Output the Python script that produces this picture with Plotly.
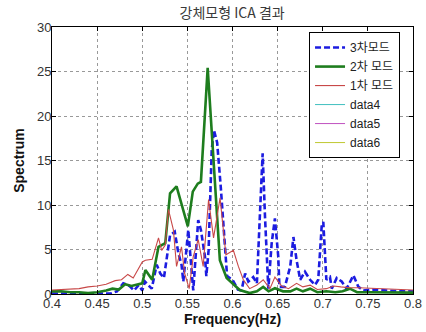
import plotly.graph_objects as go

# 3차모드 (blue dashed)
f3 = [0.40, 0.42, 0.44, 0.465, 0.472, 0.479, 0.486, 0.491, 0.496, 0.500, 0.503, 0.5105, 0.516,
      0.520, 0.524, 0.5308, 0.536, 0.540, 0.5435, 0.5455, 0.551, 0.5565, 0.562, 0.565, 0.5695,
      0.571, 0.5735, 0.577, 0.5795, 0.583, 0.587, 0.590, 0.5917, 0.594, 0.600, 0.606, 0.610,
      0.614, 0.6175, 0.623, 0.627, 0.631, 0.6334, 0.636, 0.6397, 0.6434, 0.647, 0.6507, 0.652,
      0.658, 0.664, 0.6675, 0.671, 0.675, 0.6803, 0.686, 0.6915, 0.695, 0.6988, 0.7006, 0.704,
      0.708, 0.710, 0.7155, 0.721, 0.7265, 0.734, 0.7395, 0.745, 0.756, 0.770, 0.785, 0.800]
s3 = [0.05, 0.05, 0.05, 0.05, 0.3, 1.2, 0.9, 0.4, 1.0, 0.4, 1.4, 0.6, 3.3,
      2.3, 1.8, 6.6, 7.0, 4.6, 3.3, 1.4, 7.2, 0.4, 8.3, 7.2, 4.2,
      2.0, 4.9, 16.2, 18.4, 17.0, 12.0, 8.0, 5.0, 2.0, 1.6, 0.5, 0.4,
      2.3, 1.4, 1.9, 1.2, 10.6, 15.8, 8.7, 0.6, 5.7, 8.5, 4.2, 0.8,
      0.8, 3.1, 6.4, 3.8, 1.6, 2.5, 1.6, 1.0, 1.6, 7.6, 8.1, 1.6,
      1.9, 0.6, 1.8, 1.4, 0.6, 2.1, 0.8, 0.4, 0.5, 0.4, 0.3, 0.3]

# 2차 모드 (green)
f2 = [0.40, 0.41, 0.42, 0.43, 0.44, 0.45, 0.46, 0.467, 0.474, 0.481, 0.488, 0.4955, 0.500,
      0.5035, 0.511, 0.518, 0.5255, 0.5308, 0.538, 0.5505, 0.556, 0.5615, 0.565, 0.5725,
      0.580, 0.586, 0.5935, 0.600, 0.608, 0.619, 0.627, 0.634, 0.640, 0.647, 0.656, 0.664,
      0.671, 0.678, 0.686, 0.694, 0.704, 0.714, 0.722, 0.730, 0.738, 0.750, 0.770, 0.800]
s2 = [0.3, 0.3, 0.2, 0.2, 0.1, 0.2, 0.4, 0.6, 0.5, 1.1, 0.9, 1.1, 1.2,
      2.7, 1.6, 5.3, 5.7, 11.3, 12.1, 7.6, 11.5, 12.4, 12.6, 25.4,
      13.5, 3.8, 1.8, 1.2, 0.45, 0.1, 0.3, 0.8, 0.3, 0.65, 0.3, 0.3,
      0.6, 0.3, 0.6, 0.2, 0.3, 0.2, 0.3, 0.6, 0.2, 0.2, 0.15, 0.15]

# 1차 모드 (red)
f1 = [0.40, 0.41, 0.42, 0.43, 0.44, 0.45, 0.46, 0.47, 0.477, 0.484, 0.490, 0.4955, 0.500,
      0.5035, 0.511, 0.518, 0.5215, 0.5255, 0.529, 0.5345, 0.538, 0.5435, 0.547, 0.552,
      0.5565, 0.562, 0.5675, 0.5735, 0.579, 0.5862, 0.5927, 0.601, 0.6065, 0.612, 0.619,
      0.627, 0.634, 0.6415, 0.647, 0.6545, 0.662, 0.671, 0.678, 0.686, 0.694, 0.704,
      0.712, 0.720, 0.730, 0.740, 0.760, 0.780, 0.800]
s1 = [0.45, 0.5, 0.5, 0.6, 0.8, 0.9, 1.1, 1.5, 1.6, 2.2, 1.8, 2.8, 3.6,
      3.8, 3.9, 6.3, 4.9, 5.5, 9.5, 7.2, 3.1, 5.3, 2.3, 0.6,
      4.2, 6.1, 3.1, 10.6, 6.3, 10.8, 4.4, 4.9, 3.1, 1.6, 0.6,
      1.0, 1.6, 0.6, 1.9, 0.9, 0.6, 1.2, 0.8, 1.0, 0.5, 0.6,
      0.9, 0.8, 0.7, 0.7, 0.6, 0.5, 0.45]

# data4-6 have no visible samples in the chart (legend entries only)
data4_f, data4_s = [None], [None]
data5_f, data5_s = [None], [None]
data6_f, data6_s = [None], [None]

x_ticks = [0.4, 0.45, 0.5, 0.55, 0.6, 0.65, 0.7, 0.75, 0.8]
x_labels = ["0.4", "0.45", "0.5", "0.55", "0.6", "0.65", "0.7", "0.75", "0.8"]
y_ticks = [0, 5, 10, 15, 20, 25, 30]

FONT = "Liberation Sans, Arial, Noto Sans CJK KR, sans-serif"

fig = go.Figure()
fig.add_trace(go.Scatter(x=f3, y=s3, mode="lines", name="3차모드",
                         line=dict(color="#1c1ce0", width=2.6, dash="6px,3px")))
fig.add_trace(go.Scatter(x=f2, y=s2, mode="lines", name="2차 모드",
                         line=dict(color="#1e7d1e", width=2.6)))
fig.add_trace(go.Scatter(x=f1, y=s1, mode="lines", name="1차 모드",
                         line=dict(color="#c84848", width=1.1)))
fig.add_trace(go.Scatter(x=data4_f, y=data4_s, mode="lines", name="data4",
                         line=dict(color="#40bfbf", width=1)))
fig.add_trace(go.Scatter(x=data5_f, y=data5_s, mode="lines", name="data5",
                         line=dict(color="#bf50bf", width=1)))
fig.add_trace(go.Scatter(x=data6_f, y=data6_s, mode="lines", name="data6",
                         line=dict(color="#bfc830", width=1)))

axis_common = dict(showline=True, linecolor="black", linewidth=1, mirror="ticks",
                   ticks="inside", ticklen=4, tickcolor="black", automargin=False,
                   showgrid=True, gridcolor="#999999", griddash="dot", gridwidth=1,
                   zeroline=False, tickfont=dict(family=FONT, size=13, color="#333333"))

fig.update_layout(
    width=426, height=332,
    margin=dict(l=52, r=13, t=27, b=38),
    paper_bgcolor="white", plot_bgcolor="white",
    title=dict(text="강체모형 ICA 결과", x=0.545, xanchor="center", y=0.96, yanchor="middle",
               automargin=False,
               font=dict(family="Noto Sans CJK KR, " + FONT, size=14, color="#3a3a3a")),
    xaxis=dict(range=[0.4, 0.8], tickvals=x_ticks, ticktext=x_labels, ticklabelstandoff=-3,
               title=dict(text="<b>Frequency(Hz)</b>", standoff=0,
                          font=dict(family=FONT, size=14, color="#111111")),
               **axis_common),
    yaxis=dict(range=[0, 30], tickvals=y_ticks, ticklabelstandoff=-3,
               title=dict(text="<b>Spectrum</b>", standoff=9,
                          font=dict(family=FONT, size=14, color="#111111")),
               **axis_common),
    legend=dict(x=0.712, y=0.981, xanchor="left", yanchor="top",
                bgcolor="white", bordercolor="black", borderwidth=1,
                itemwidth=30, tracegroupgap=0,
                font=dict(family=FONT, size=12, color="#222222")),
    showlegend=True,
)

# remove the default 8px page margin so the figure sits at the window's top-left corner
fig.write_html("out.html", config={"displayModeBar": False},
               post_script="document.body.style.margin='0';")
